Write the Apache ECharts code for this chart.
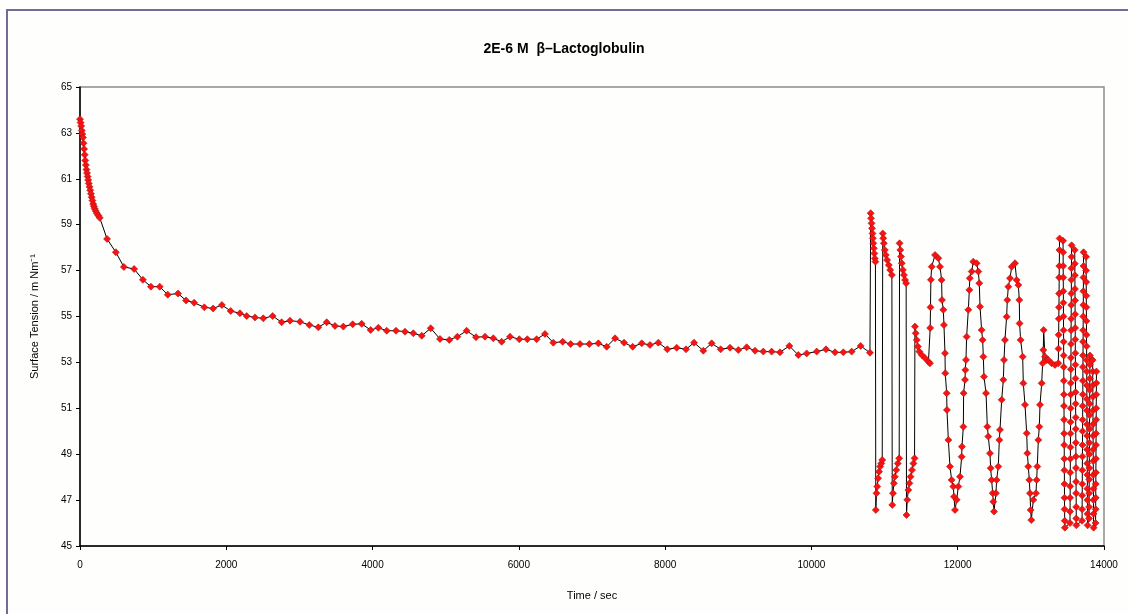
<!DOCTYPE html>
<html>
<head>
<meta charset="utf-8">
<script src="https://cdn.jsdelivr.net/npm/echarts@6/dist/echarts.min.js"></script>
<style>
html,body{margin:0;padding:0;background:#fff;}
#chart{width:1128px;height:614px;}
</style>
</head>
<body>
<div id="chart"></div>
<script>
// ---- data (time in s, surface tension in mN/m) ----
const titleText = '2E-6 M  \u03B2\u2013Lactoglobulin';
const xTicks = [0, 2000, 4000, 6000, 8000, 10000, 12000, 14000];
const yTicks = [45, 47, 49, 51, 53, 55, 57, 59, 61, 63, 65];

const initialDecay = [[0,63.6],[8,63.45],[16,63.3],[24,63.1],[32,62.95],[40,62.8],[48,62.55],[56,62.3],[64,62.05],[72,61.8],[80,61.6],[88,61.4],[96,61.25],[104,61.1],[112,60.95],[120,60.8],[130,60.65],[140,60.5],[150,60.35],[160,60.2],[170,60.05],[180,59.9],[190,59.8],[200,59.7],[215,59.6],[230,59.5],[250,59.4],[270,59.3]];

const slowDecay = [[370,58.38],[490,57.8],[600,57.16],[740,57.07],[860,56.6],[970,56.3],[1090,56.3],[1200,55.95],[1340,56.0],[1450,55.7],[1560,55.6],[1700,55.4],[1820,55.35],[1940,55.5],[2060,55.24],[2187,55.14],[2279,55.02],[2393,54.96],[2506,54.92],[2634,55.02],[2757,54.75],[2871,54.82],[3008,54.77],[3135,54.63],[3258,54.53],[3373,54.75],[3486,54.59],[3600,54.56],[3728,54.66],[3851,54.68],[3974,54.41],[4079,54.51],[4193,54.38],[4320,54.38],[4443,54.34],[4557,54.27],[4672,54.16],[4795,54.49],[4922,54.02],[5049,53.98],[5159,54.12],[5286,54.38],[5414,54.10],[5537,54.12],[5651,54.05],[5765,53.90],[5879,54.12],[6006,54.01],[6116,54.01],[6243,54.01],[6357,54.24]];

const plateau = [[6471,53.86],[6599,53.90],[6708,53.80],[6836,53.80],[6963,53.80],[7087,53.83],[7201,53.68],[7315,54.05],[7438,53.86],[7556,53.68],[7680,53.83],[7793,53.76],[7907,53.86],[8030,53.57],[8158,53.64],[8285,53.57],[8395,53.86],[8522,53.51],[8636,53.83],[8759,53.57],[8887,53.64],[9000,53.54],[9115,53.66],[9229,53.51],[9342,53.47],[9456,53.47],[9570,53.44],[9698,53.72],[9821,53.32],[9935,53.39],[10072,53.47],[10199,53.57],[10322,53.44],[10436,53.44],[10550,53.47],[10673,53.72],[10800,53.42]];

const stepPulses = [
[10810,59.50],[10815,59.28],[10822,59.06],[10828,58.84],[10835,58.62],[10840,58.41],[10846,58.19],[10853,57.97],[10860,57.75],[10866,57.53],[10875,57.39],
[10880,46.57],[10890,47.30],[10900,47.59],[10912,47.95],[10925,48.24],[10940,48.46],[10955,48.60],[10968,48.75],
[10975,58.62],[10982,58.41],[10990,58.19],[11003,57.90],[11017,57.68],[11035,57.46],[11058,57.24],[11077,57.03],[11100,56.81],
[11105,46.79],[11115,47.30],[11127,47.73],[11140,48.02],[11160,48.31],[11180,48.60],[11200,48.82],
[11205,58.19],[11215,57.90],[11225,57.61],[11235,57.32],[11250,57.03],[11265,56.81],[11280,56.59],[11295,56.45],
[11300,46.35],[11310,47.01],[11325,47.44],[11340,47.73],[11355,48.02],[11375,48.31],[11395,48.60],[11410,48.82]];

const recovery = [[11415,54.56],[11425,54.27],[11440,53.98],[11455,53.69],[11475,53.47],[11510,53.32],[11555,53.18],[11600,53.03],[11620,52.96]];

const sineCycles = [[11624,54.5],[11628,55.4],[11633,56.6],[11644,57.17],[11690,57.68],[11735,57.54],[11758,57.17],[11780,56.59],
[11785,55.72],[11803,55.29],[11812,54.63],[11826,53.40],[11830,52.53],[11849,51.66],[11853,50.93],[11872,49.62],[11894,48.46],[11917,47.88],[11940,47.59],[11949,47.15],[11963,46.57],
[11986,47.01],[12008,47.59],[12031,48.02],[12054,48.89],[12058,49.33],[12077,50.20],[12081,51.66],[12100,52.24],[12104,52.67],[12113,53.11],[12122,54.12],[12145,55.29],[12159,56.16],[12165,56.67],[12191,56.96],[12213,57.39],
[12259,57.32],[12282,56.96],[12295,56.45],[12305,55.43],[12327,54.41],[12341,53.98],[12350,53.25],[12359,52.38],[12387,51.66],[12405,50.20],[12418,49.77],[12441,49.04],[12450,48.39],[12464,47.88],[12478,47.30],[12487,46.93],[12496,46.50],
[12523,47.30],[12532,47.88],[12555,48.46],[12569,49.62],[12578,50.06],[12601,51.37],[12624,52.24],[12633,53.11],[12646,53.98],[12669,54.99],[12678,55.72],[12692,56.30],[12715,56.67],[12738,57.17],[12783,57.32],
[12806,56.59],[12829,56.37],[12842,55.72],[12846,54.70],[12860,53.98],[12888,53.25],[12897,52.09],[12920,51.15],[12943,49.91],[12952,49.04],[12965,48.46],[12979,47.88],[12988,47.30],[12997,46.57],[13006,46.13],
[13034,47.01],[13070,47.30],[13079,47.88],[13088,48.46],[13102,49.62],[13116,50.20],[13125,51.15],[13148,52.09],[13161,52.96],[13170,53.54],[13175,54.41],
[13193,53.25],[13216,53.11],[13239,53.11],[13284,52.96],[13330,52.89],[13375,52.96]];

const fastCycles = [
[13378,53.6],[13380,54.2],[13382,54.9],[13384,55.4],[13386,56.0],[13387,56.7],[13389,57.2],[13391,57.9],[13393,58.4],
[13440,58.3],[13441,57.8],[13442,57.2],[13443,56.7],[13444,56.1],[13445,55.6],[13446,55.0],[13447,54.4],[13448,53.9],[13449,53.3],[13450,52.8],[13451,52.2],[13452,51.6],[13453,51.1],[13454,50.5],[13455,49.9],[13456,49.4],[13457,48.8],[13458,48.3],[13459,47.7],[13460,47.1],[13461,46.6],[13463,46.1],[13465,45.8],
[13535,46.0],[13536,46.5],[13537,47.1],[13538,47.6],[13539,48.2],[13540,48.8],[13541,49.3],[13542,49.9],[13543,50.4],[13544,51.0],[13545,51.6],[13546,52.1],[13547,52.7],[13548,53.2],[13549,53.8],[13550,54.4],[13551,54.9],[13552,55.5],[13553,56.0],[13554,56.6],[13555,57.1],[13556,57.6],[13557,58.1],
[13600,57.9],[13601,57.3],[13602,56.8],[13603,56.2],[13604,55.7],[13605,55.1],[13606,54.5],[13607,54.0],[13608,53.4],[13609,52.9],[13610,52.3],[13611,51.7],[13612,51.2],[13613,50.6],[13614,50.1],[13615,49.5],[13616,48.9],[13617,48.4],[13618,47.8],[13619,47.3],[13620,46.7],[13621,46.2],[13622,45.9],
[13700,46.1],[13701,46.6],[13702,47.2],[13703,47.7],[13704,48.3],[13705,48.9],[13706,49.4],[13707,50.0],[13708,50.5],[13709,51.1],[13710,51.6],[13711,52.2],[13712,52.8],[13713,53.3],[13714,53.9],[13715,54.4],[13716,55.0],[13717,55.5],[13718,56.1],[13719,56.7],[13720,57.2],[13721,57.8],
[13755,57.6],[13756,57.0],[13757,56.5],[13758,55.9],[13759,55.4],[13760,54.8],[13761,54.2],[13762,53.7],[13763,53.1],[13764,52.6],[13765,52.0],[13766,51.4],[13767,50.9],[13768,50.3],[13769,49.8],[13770,49.2],[13771,48.6],[13772,48.1],[13773,47.5],[13774,47.0],[13775,46.4],[13776,45.9],
[13795,46.2],[13796,46.7],[13797,47.3],[13798,47.9],[13799,48.4],[13800,49.0],[13801,49.5],[13802,50.1],[13803,50.7],[13804,51.2],[13805,51.8],[13806,52.3],[13807,52.9],[13808,53.3],
[13845,53.1],[13846,52.6],[13847,52.0],[13848,51.5],[13849,50.9],[13850,50.3],[13851,49.8],[13852,49.2],[13853,48.7],[13854,48.1],[13855,47.5],[13856,47.0],[13857,46.4],[13858,45.8],
[13885,46.0],[13886,46.6],[13887,47.1],[13888,47.7],[13889,48.2],[13890,48.8],[13891,49.4],[13892,49.9],[13893,50.5],[13894,51.0],[13895,51.6],[13896,52.1],[13897,52.6]];

const series = [].concat(initialDecay, slowDecay, plateau, stepPulses, recovery, sineCycles, fastCycles);

const chart = echarts.init(document.getElementById('chart'), null, {renderer: 'canvas'});
const FONT = 'Liberation Sans, Arial, sans-serif';
chart.setOption({
  backgroundColor: '#ffffff',
  animation: false,
  graphic: [{
    type: 'rect', z: -10, silent: true,
    shape: {x: 7, y: 10, width: 1130, height: 620},
    style: {fill: '#fefefc', stroke: '#6e6e96', lineWidth: 2}
  }],
  title: {
    text: titleText, left: 'center', top: 37,
    textStyle: {fontFamily: FONT, fontSize: 14, fontWeight: 'bold', color: '#000'}
  },
  grid: {left: 80, right: 24, top: 87, bottom: 68, show: true, borderColor: '#8c8c8c', borderWidth: 1.5, backgroundColor: 'transparent'},
  xAxis: {
    type: 'value', min: 0, max: 14000, interval: 2000,
    name: 'Time / sec', nameLocation: 'middle', nameGap: 44,
    nameTextStyle: {fontFamily: FONT, fontSize: 11, color: '#000'},
    axisLine: {onZero: false, lineStyle: {color: '#000', width: 1.5}},
    axisTick: {show: true, inside: false, length: 4, lineStyle: {color: '#000'}},
    axisLabel: {fontFamily: FONT, fontSize: 10, color: '#000', margin: 14,
      formatter: function (v) { return xTicks.indexOf(v) >= 0 ? String(v) : ''; }},
    splitLine: {show: false}
  },
  yAxis: {
    type: 'value', min: 45, max: 65, interval: 2,
    name: 'Surface Tension / m Nm\u207B\u00B9', nameLocation: 'middle', nameGap: 40,
    nameTextStyle: {fontFamily: FONT, fontSize: 11, color: '#000'},
    axisLine: {show: true, lineStyle: {color: '#000', width: 1.5}},
    axisTick: {show: true, inside: false, length: 4, lineStyle: {color: '#000'}},
    axisLabel: {fontFamily: FONT, fontSize: 10, color: '#000', margin: 8,
      formatter: function (v) { return yTicks.indexOf(v) >= 0 ? String(v) : ''; }},
    splitLine: {show: false}
  },
  series: [{
    type: 'line', data: series,
    showAllSymbol: true, symbol: 'diamond', symbolSize: 7,
    lineStyle: {color: '#000', width: 1},
    itemStyle: {color: '#ff1010', borderColor: '#a01818', borderWidth: 0.6},
    emphasis: {disabled: true}
  }]
});
</script>
</body>
</html>
